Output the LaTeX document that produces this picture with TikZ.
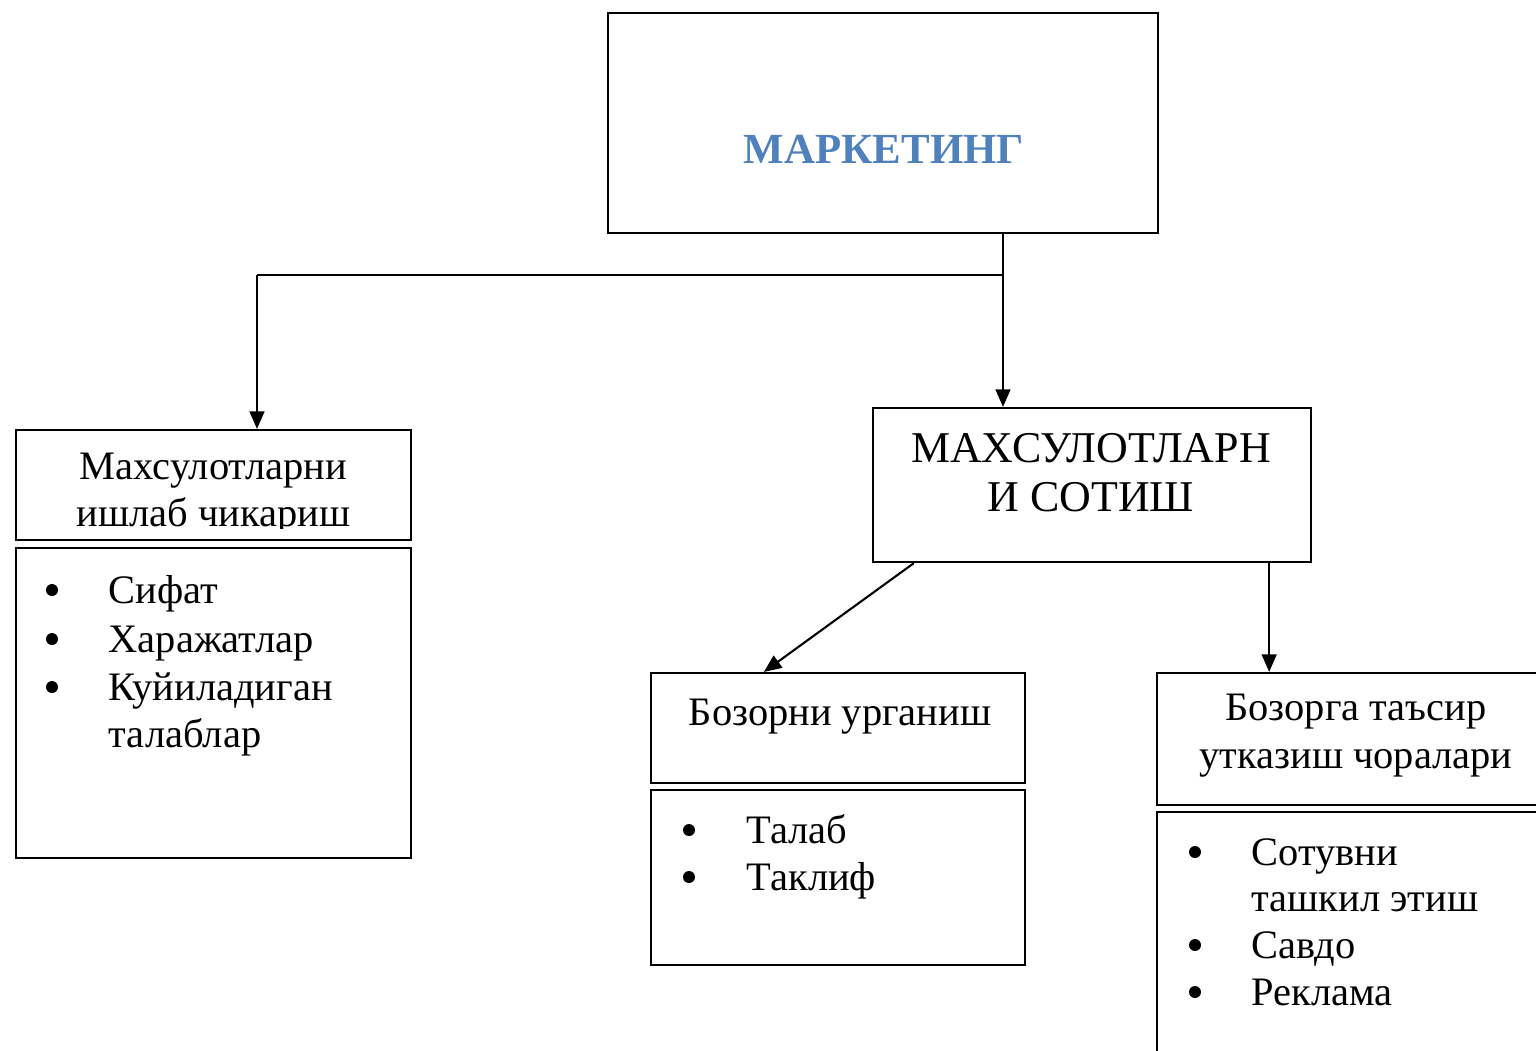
\documentclass[tikz,border=0pt]{standalone}
\usepackage{fontspec}
\setmainfont{Liberation Serif}
\usetikzlibrary{arrows.meta}
\definecolor{titleblue}{RGB}{79,129,189}

\tikzset{
  box/.style={draw, line width=0.6pt, inner sep=0pt},
  plainline/.style={line width=0.6pt},
  link/.style={line width=0.6pt, -{Triangle[length=5pt,width=4.2pt]}},
  bodytext/.style={font=\fontsize{11.5}{13.6}\selectfont, inner sep=0pt},
  bullet/.style={circle, fill, inner sep=0pt, minimum size=1.2mm},
  headtext/.style={bodytext, align=center},
  bigtext/.style={font=\fontsize{12.5}{14}\selectfont, align=center, inner sep=0pt},
  titletext/.style={font=\fontsize{12.2}{15}\selectfont\bfseries, text=titleblue, inner sep=0pt},
}

\begin{document}
\begin{tikzpicture}[x=0.01cm,y=-0.01cm]
    \useasboundingbox (0,0) rectangle (1536,1050);
    \clip (0,0) rectangle (1536,1050);

    % Top box
    \node[box, minimum width=5.50cm, minimum height=2.20cm] (market) at (883,123) {};
    \node[titletext, anchor=base] (market-t) at (884,163) {МАРКЕТИНГ};

    % Left branch
    \node[box, minimum width=3.95cm, minimum height=1.10cm] (make) at (213.5,485) {};
    \begin{scope}
        \clip (16,430) rectangle (411,528);
        \node[headtext] (make-t) at (213.5,494) {Махсулотларни\\ишлаб чикариш};
    \end{scope}
    \node[box, minimum width=3.95cm, minimum height=3.10cm] (makelist) at (213.5,703) {};
    \foreach \y in {603,652,700}
        \node[bullet] (mk-b\y) at (52,\y-13) {};
    \foreach \y/\t in {603/Сифат, 652/Харажатлар, 700/Куйиладиган, 747/талаблар}
        \node[bodytext, anchor=base west] (mk-\y) at (108,\y) {\t};

    % Middle box
    \node[box, minimum width=4.38cm, minimum height=1.54cm] (sell) at (1092,485) {};
    \node[bigtext] (sell-t) at (1091,473) {МАХСУЛОТЛАРН\\И СОТИШ};

    % Market study
    \node[box, minimum width=3.74cm, minimum height=1.10cm] (study) at (838,728) {};
    \node[bodytext, anchor=base] (study-t) at (840,725) {Бозорни урганиш};
    \node[box, minimum width=3.74cm, minimum height=1.75cm] (studylist) at (838,877.5) {};
    \foreach \y/\t in {843/Талаб, 890/Таклиф} {
        \node[bullet] (st-b\y) at (689,\y-13) {};
        \node[bodytext, anchor=base west] (st-\y) at (746,\y) {\t};
    }

    % Market action
    \node[box, minimum width=3.98cm, minimum height=1.32cm] (act) at (1356,739) {};
    \node[headtext] (act-t) at (1356,736) {Бозорга таъсир\\утказиш чоралари};
    \node[box, minimum width=3.98cm, minimum height=2.78cm] (actlist) at (1356,951) {};
    \foreach \y in {865,958,1005}
        \node[bullet] (ac-b\y) at (1195,\y-13) {};
    \foreach \y/\t in {865/Сотувни, 911/ташкил этиш, 958/Савдо, 1005/Реклама}
        \node[bodytext, anchor=base west] (ac-\y) at (1251,\y) {\t};

    % Connectors
    \coordinate (split) at (1003,275);
    \coordinate (leftdrop) at (257,275);
    \draw[plainline] (market.south -| split) -- (split) -- (leftdrop);
    \draw[link] (split) -- (split |- sell.north);
    \draw[link] (leftdrop) -- (leftdrop |- make.north);
    \draw[link] ([xshift=0.42cm]sell.south west) -- ([xshift=1.14cm]study.north west);
    \draw[link] ([xshift=-0.43cm]sell.south east) -- ([xshift=-0.43cm]sell.south east |- act.north);
\end{tikzpicture}
\end{document}
